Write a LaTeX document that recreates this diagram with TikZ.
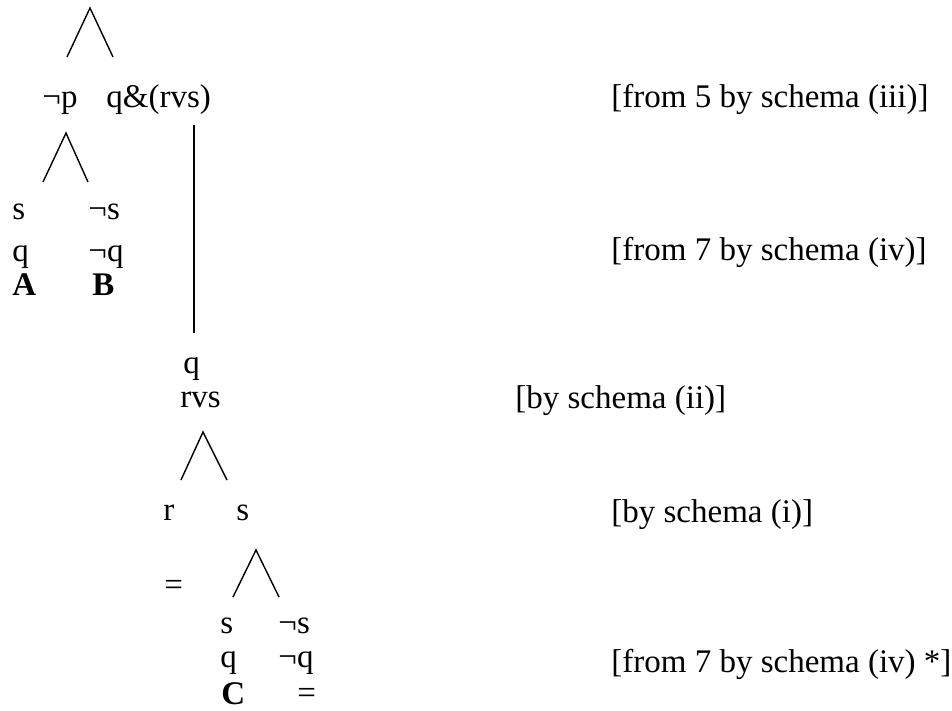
\documentclass[tikz,border=0pt]{standalone}
\usepackage{fontspec}
\setmainfont{Liberation Serif}
\usetikzlibrary{positioning}

\begin{document}
\begin{tikzpicture}[
  x=0.5pt, y=-0.5pt,
  lbl/.style={anchor=base west, inner sep=0pt, font=\fontsize{16.5}{19}\selectfont},
  rulelbl/.style={anchor=base west, inner sep=0pt, font=\fontsize{16.5}{19}\selectfont},
  fork/.style={line width=0.7pt},
  trunk/.style={line width=1pt},
]
  \useasboundingbox (0,0) rectangle (952,711);

  % top fork
  \coordinate (v0) at (90,8);
  \coordinate (v0l) at (67,57);
  \coordinate (v0r) at (113,57);
  \draw[fork] (v0l) -- (v0) -- (v0r);

  % first split
  \node[lbl] (np) at (42,108) {¬p};
  \node[lbl] (qrs) at (106,108) {q\&(rvs)};
  \node[rulelbl] (r1) at (611,108) {[from 5 by schema (iii)]};

  % branch under not-p
  \coordinate (v1) at (66,133);
  \coordinate (v1l) at (43,182);
  \coordinate (v1r) at (88,182);
  \draw[fork] (v1l) -- (v1) -- (v1r);

  \node[lbl] (s1) at (12,220) {s};
  \node[lbl] (ns1) at (88,220) {¬s};
  \node[lbl] (q1) at (12,262) {q};
  \node[lbl] (nq1) at (88,262) {¬q};
  \node[rulelbl] (r2) at (611,260) {[from 7 by schema (iv)]};
  \node[lbl] (ca) at (12,295) {\textbf{A}};
  \node[lbl] (cb) at (92,295) {\textbf{B}};

  % trunk under q&(rvs)
  \coordinate (t1) at (194,125);
  \coordinate (t2) at (194,333);
  \draw[trunk] (t1) -- (t2);

  \node[lbl] (q2) at (183,373) {q};
  \node[lbl] (rvs) at (180,407) {rvs};
  \node[rulelbl] (r3) at (515,408) {[by schema (ii)]};

  % branch under rvs
  \coordinate (v2) at (203,432);
  \coordinate (v2l) at (181,480);
  \coordinate (v2r) at (227,480);
  \draw[fork] (v2l) -- (v2) -- (v2r);

  \node[lbl] (r) at (163,520) {r};
  \node[lbl] (s2) at (236,520) {s};
  \node[rulelbl] (r4) at (611,522) {[by schema (i)]};

  \node[lbl] (eq1) at (164,595) {=};

  % branch under s
  \coordinate (v3) at (256,550);
  \coordinate (v3l) at (233,597);
  \coordinate (v3r) at (279,597);
  \draw[fork] (v3l) -- (v3) -- (v3r);

  \node[lbl] (s3) at (220,633) {s};
  \node[lbl] (ns3) at (278,633) {¬s};
  \node[lbl] (q3) at (220,667) {q};
  \node[lbl] (nq3) at (278,667) {¬q};
  \node[rulelbl] (r5) at (611,672) {[from 7 by schema (iv) *]};
  \node[lbl] (cc) at (221,704) {\textbf{C}};
  \node[lbl] (eq2) at (297,703) {=};
\end{tikzpicture}
\end{document}
